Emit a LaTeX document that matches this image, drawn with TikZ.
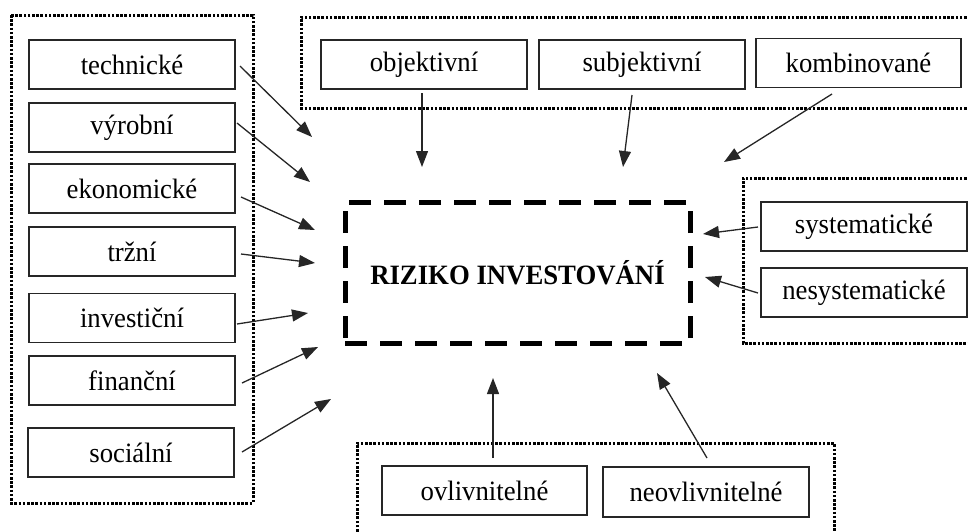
\documentclass[tikz,border=0pt]{standalone}
\usepackage{fontspec}
\setmainfont{Liberation Serif}
\usetikzlibrary{arrows.meta}
\newcommand{\hsq}[1]{\scalebox{0.955}[1]{#1}}
\begin{document}
\begin{tikzpicture}[x=1pt,y=-1pt,
  box/.style={draw=black!85, line width=1.5pt, minimum width=206pt, minimum height=49pt,
    inner sep=0pt, font=\fontsize{28}{32}\selectfont},
  grp/.style={draw=black, line width=3pt, dash pattern=on 2.6pt off 1.6pt},
  arr/.style={draw=black!85, line width=1.3pt, -{Triangle[length=16pt,width=12pt]}}
]
\useasboundingbox (0,0) rectangle (968,531);
\clip (0,0) rectangle (968,531);
% groups
\draw[grp] (11,15) rectangle (253,503);
\draw[grp] (975,17) -- (301,17) -- (301,108) -- (975,108);
\draw[grp] (975,178) -- (743,178) -- (743,343) -- (975,343);
\draw[grp] (357,540) -- (357,443) -- (834,443) -- (834,540);
% center
\node[draw, line width=5pt, dash pattern=on 22pt off 13pt, minimum width=345pt, minimum height=141pt,
  font=\fontsize{28}{32}\selectfont\bfseries] (main) at (517.5,272.5) {\hsq{RIZIKO INVESTOVÁNÍ}};
% left boxes
\node[box] (tech) at (132,64.5) {\hsq{technické}};
\node[box] (vyr) at (132,127.5) {\hsq{výrobní}};
\node[box] (ekon) at (132,188.5) {\hsq{ekonomické}};
\node[box] (trz) at (132,251.5) {\hsq{tržní}};
\node[box] (inv) at (132,318) {\hsq{investiční}};
\node[box] (fin) at (132,380.5) {\hsq{finanční}};
\node[box] (soc) at (131,452.5) {\hsq{sociální}};
% top boxes
\node[box] (obj) at (424,64.5) {\hsq{objektivní}};
\node[box] (subj) at (642,64.5) {\hsq{subjektivní}};
\node[box, minimum width=205pt] (komb) at (858.5,63) {\hsq{kombinované}};
% right boxes
\node[box] (sys) at (864,226.5) {\hsq{systematické}};
\node[box] (nesys) at (864,292.5) {\hsq{nesystematické}};
% bottom boxes
\node[box, minimum width=205pt] (ovl) at (484.5,490.5) {\hsq{ovlivnitelné}};
\node[box, minimum height=50pt] (neovl) at (706,492) {\hsq{neovlivnitelné}};
% arrow coordinates
\coordinate (s1) at (240,66);  \coordinate (e1) at (312,137);
\coordinate (s2) at (237,123); \coordinate (e2) at (310,182);
\coordinate (s3) at (241,197); \coordinate (e3) at (315,230);
\coordinate (s4) at (241,254); \coordinate (e4) at (315,263);
\coordinate (s5) at (237,324); \coordinate (e5) at (308,313);
\coordinate (s6) at (242,383); \coordinate (e6) at (318,347);
\coordinate (s7) at (242,452); \coordinate (e7) at (331,399);
\coordinate (so) at (422,93);  \coordinate (eo) at (422,167);
\coordinate (ss) at (632,95);  \coordinate (es) at (623,167);
\coordinate (sk) at (832,94);  \coordinate (ek) at (724,162);
\coordinate (sy) at (758,227); \coordinate (ey) at (703,234);
\coordinate (sn) at (758,293); \coordinate (en) at (705,277);
\coordinate (sv) at (493,458); \coordinate (ev) at (493,378);
\coordinate (snv) at (707,458); \coordinate (env) at (657,373);
\draw[arr] (s1) -- (e1);
\draw[arr] (s2) -- (e2);
\draw[arr] (s3) -- (e3);
\draw[arr] (s4) -- (e4);
\draw[arr] (s5) -- (e5);
\draw[arr] (s6) -- (e6);
\draw[arr] (s7) -- (e7);
\draw[arr] (so) -- (eo);
\draw[arr] (ss) -- (es);
\draw[arr] (sk) -- (ek);
\draw[arr] (sy) -- (ey);
\draw[arr] (sn) -- (en);
\draw[arr] (sv) -- (ev);
\draw[arr] (snv) -- (env);
\end{tikzpicture}
\end{document}
